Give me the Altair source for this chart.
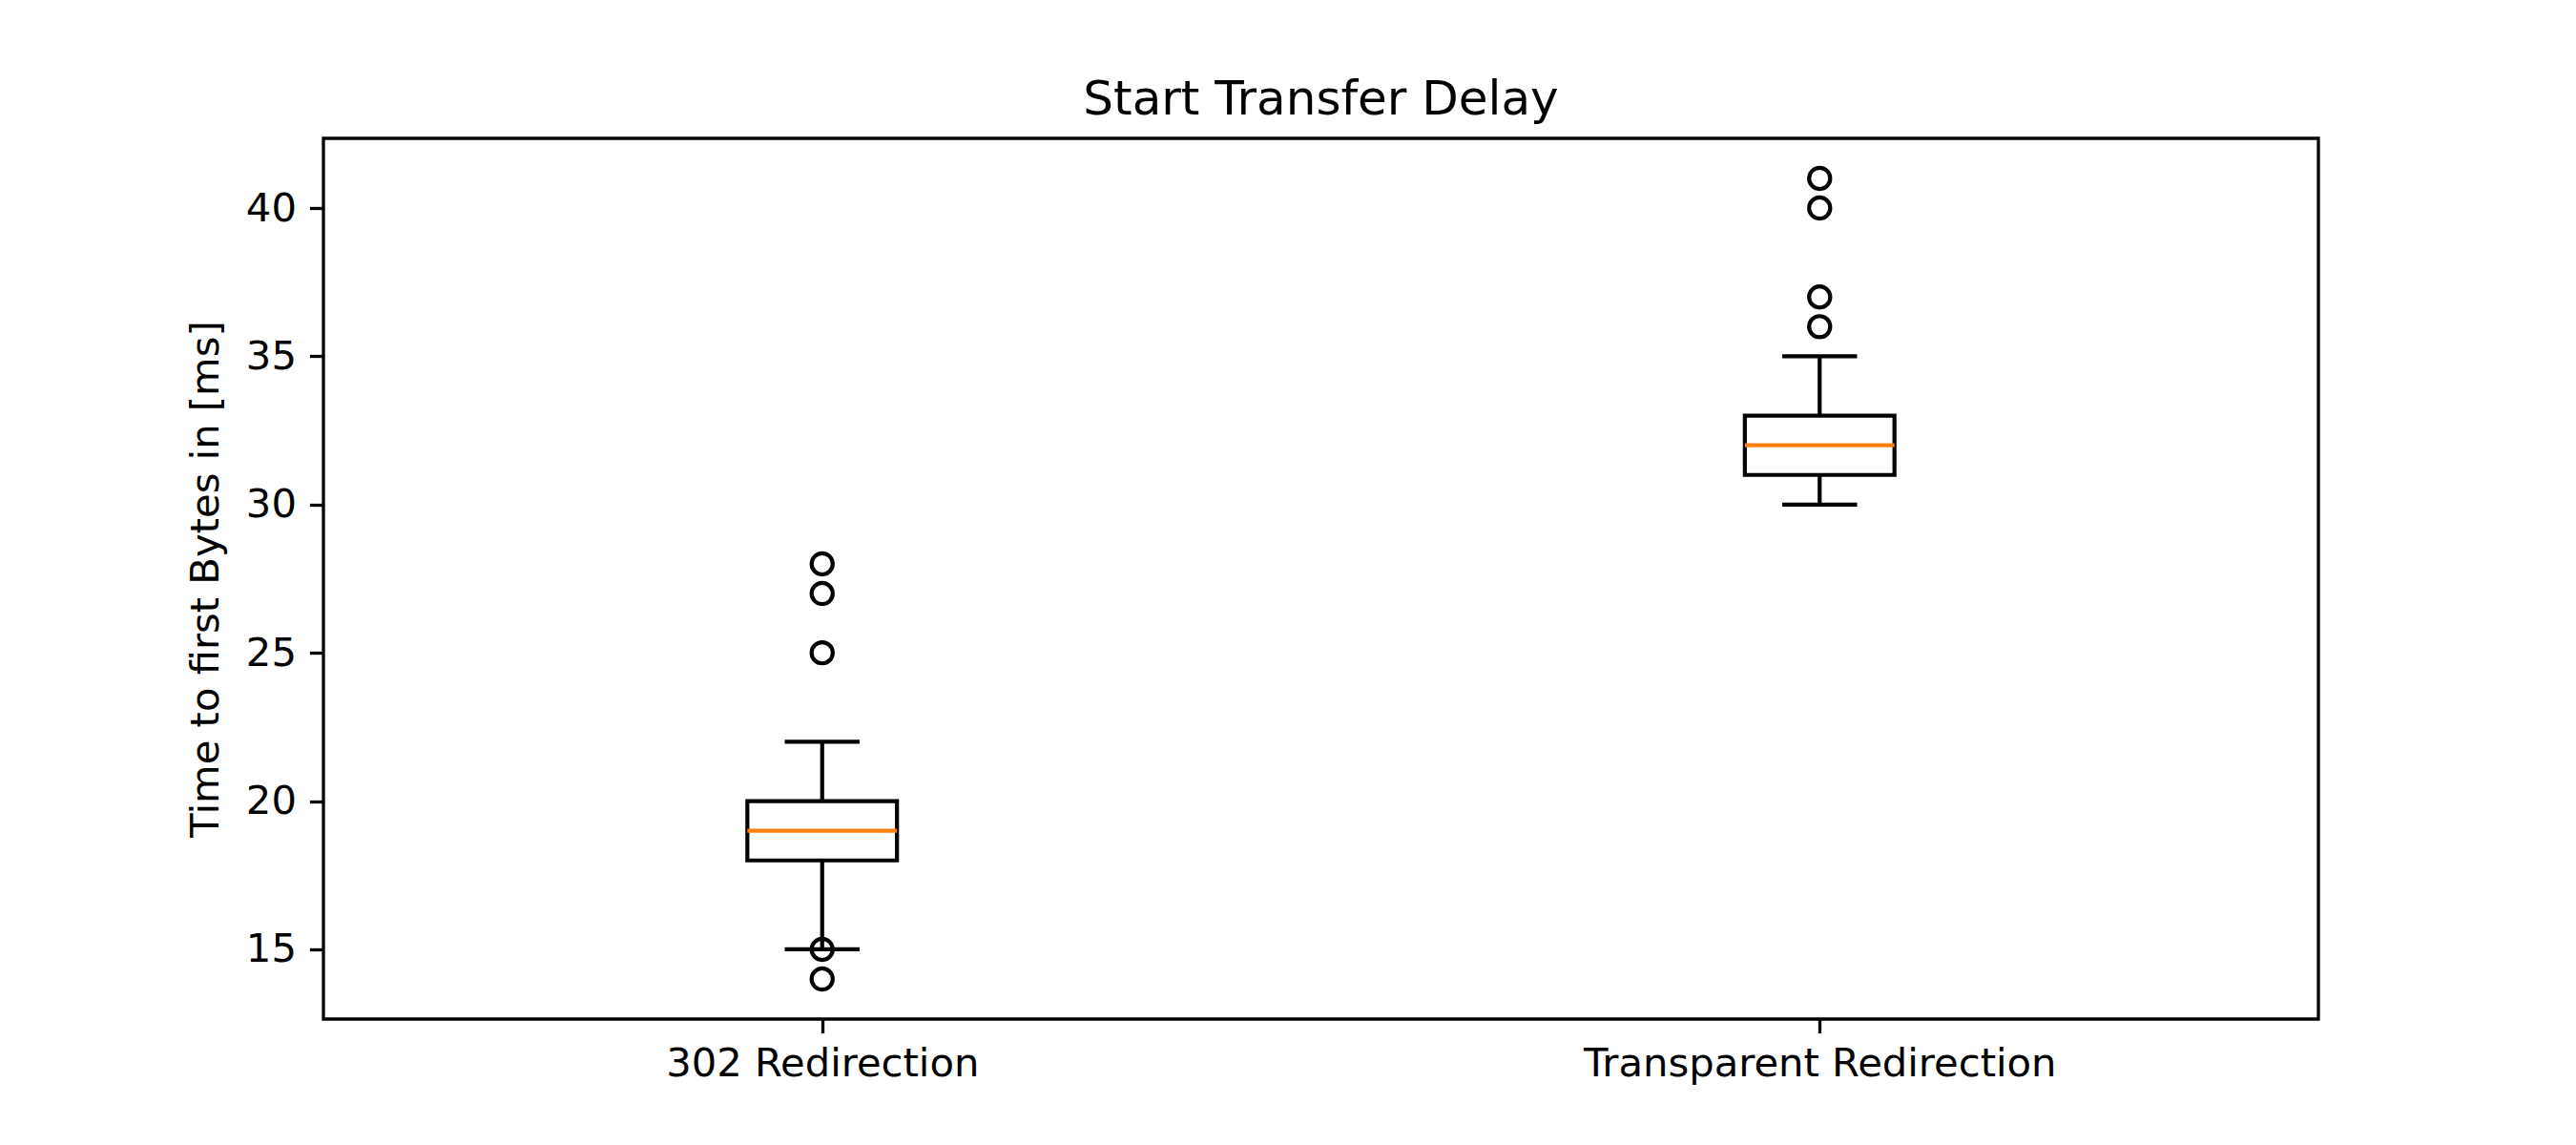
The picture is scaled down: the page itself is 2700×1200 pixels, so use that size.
import altair as alt
import pandas as pd

# ---- data ----
categories = ["302 Redirection", "Transparent Redirection"]
positions = [1, 2]
whisker_low = [15, 30]
q1 = [18, 31]
median = [19, 32]
q3 = [20, 33]
whisker_high = [22, 35]
outliers_302 = [14, 15, 25, 27, 28]
outliers_transparent = [36, 37, 40, 41]
y_ticks = [15, 20, 25, 30, 35, 40]

BOX_HALF = 0.075
CAP_HALF = 0.0375
FONT = "DejaVu Sans"
LW = 4.2

stats = pd.DataFrame({
    "cat": categories,
    "pos": positions,
    "wlo": whisker_low,
    "q1": q1,
    "med": median,
    "q3": q3,
    "whi": whisker_high,
})
stats["bx0"] = stats["pos"] - BOX_HALF
stats["bx1"] = stats["pos"] + BOX_HALF
stats["cx0"] = stats["pos"] - CAP_HALF
stats["cx1"] = stats["pos"] + CAP_HALF

out_rows = [{"pos": positions[0], "v": v} for v in outliers_302] + \
           [{"pos": positions[1], "v": v} for v in outliers_transparent]
outliers = pd.DataFrame(out_rows)

label_expr = "datum.value == 1 ? '%s' : '%s'" % (categories[0], categories[1])

xscale = alt.Scale(domain=[0.5, 2.5], nice=False, zero=False)
yscale = alt.Scale(domain=[12.65, 42.35], nice=False, zero=False)

xaxis = alt.Axis(values=positions, labelExpr=label_expr, title=None, grid=False,
                 domain=False, tickSize=14.6, tickWidth=3.3, tickColor="black",
                 labelFont=FONT, labelFontSize=41.7, labelColor="black",
                 labelPadding=12, labelAngle=0, labelLimit=2000)
yaxis = alt.Axis(values=y_ticks, title="Time to first Bytes in [ms]", grid=False,
                 domain=False, tickSize=14.6, tickWidth=3.3, tickColor="black",
                 labelFont=FONT, labelFontSize=41.7, labelColor="black",
                 labelPadding=14, titleFont=FONT, titleFontSize=41.7,
                 titleFontWeight="normal", titleColor="black", titlePadding=20,
                 titleLimit=2000)

base = alt.Chart(stats)

whisk_hi = base.mark_rule(color="black", strokeWidth=LW).encode(
    x=alt.X("pos:Q", scale=xscale, axis=xaxis),
    y=alt.Y("q3:Q", scale=yscale, axis=yaxis),
    y2="whi:Q",
)
whisk_lo = base.mark_rule(color="black", strokeWidth=LW).encode(
    x=alt.X("pos:Q", scale=xscale), y=alt.Y("q1:Q", scale=yscale), y2="wlo:Q"
)
cap_hi = base.mark_rule(color="black", strokeWidth=LW).encode(
    x=alt.X("cx0:Q", scale=xscale), x2="cx1:Q", y=alt.Y("whi:Q", scale=yscale)
)
cap_lo = base.mark_rule(color="black", strokeWidth=LW).encode(
    x=alt.X("cx0:Q", scale=xscale), x2="cx1:Q", y=alt.Y("wlo:Q", scale=yscale)
)
box = base.mark_rect(stroke="black", strokeWidth=LW, fill="white", fillOpacity=0).encode(
    x=alt.X("bx0:Q", scale=xscale), x2="bx1:Q",
    y=alt.Y("q1:Q", scale=yscale), y2="q3:Q",
)
med = base.mark_rule(color="#ff7f0e", strokeWidth=LW).encode(
    x=alt.X("bx0:Q", scale=xscale), x2="bx1:Q", y=alt.Y("med:Q", scale=yscale)
)
fliers = alt.Chart(outliers).mark_point(
    shape="circle", filled=False, stroke="black", strokeWidth=LW, size=491, opacity=1
).encode(
    x=alt.X("pos:Q", scale=xscale), y=alt.Y("v:Q", scale=yscale)
)

chart = alt.layer(whisk_hi, whisk_lo, cap_hi, cap_lo, box, med, fliers).properties(
    width=2091,
    height=923,
    autosize=alt.AutoSizeParams(type="none"),
    padding={"left": 339, "top": 145, "right": 270, "bottom": 132},
    background="white",
    title=alt.TitleParams("Start Transfer Delay", font=FONT, fontSize=50,
                          fontWeight="normal", color="black", offset=15),
).configure_view(stroke="black", strokeWidth=3.3)

chart.save("out.html", embed_options={"renderer": "svg", "actions": False})
